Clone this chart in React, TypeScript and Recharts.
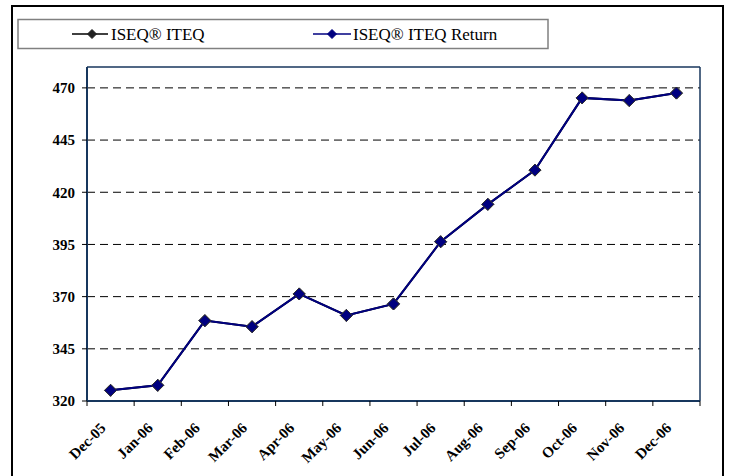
import React from 'react';
import { LineChart, Line, XAxis, YAxis, CartesianGrid } from 'recharts';

const months = ['Dec-05', 'Jan-06', 'Feb-06', 'Mar-06', 'Apr-06', 'May-06', 'Jun-06', 'Jul-06', 'Aug-06', 'Sep-06', 'Oct-06', 'Nov-06', 'Dec-06'];
const iteqValues = [325.1, 327.5, 358.5, 355.6, 371.3, 361.0, 366.5, 396.3, 414.2, 430.6, 465.2, 463.9, 467.5];
const iteqReturnValues = [325.1, 327.5, 358.5, 355.6, 371.3, 361.0, 366.5, 396.3, 414.2, 430.6, 465.2, 463.9, 467.5];
const yTicks = [320, 345, 370, 395, 420, 445, 470];
const xBoundaries = [0, 1, 2, 3, 4, 5, 6, 7, 8, 9, 10, 11, 12, 13];
const seriesNames = ['ISEQ® ITEQ', 'ISEQ® ITEQ Return'];

const data = months.map((m, i) => ({ pos: i + 0.5, month: m, iteq: iteqValues[i], ret: iteqReturnValues[i] }));

const FONT = '"Liberation Serif", "Times New Roman", Times, serif';
const W = 732;
const H = 476;
const M = { top: 66, left: 27, right: 31, bottom: 15 };
const Y_AXIS_W = 60;
const X_AXIS_H = 60;
const PLOT_W = W - M.left - Y_AXIS_W - M.right - 1;
const BAND = PLOT_W / months.length;
const AXIS_COLOR = '#17365d';

const Diamond = (props: any) => {
  const { cx, cy, fillColor, strokeColor, r } = props;
  if (cx == null || cy == null) return null;
  const s = r || 6;
  return (
    <polygon
      points={`${cx},${cy - s} ${cx + s},${cy} ${cx},${cy + s} ${cx - s},${cy}`}
      fill={fillColor}
      stroke={strokeColor}
      strokeWidth={1}
    />
  );
};

const MonthTick = (props: any) => {
  const { x, y, payload } = props;
  const idx = payload.value;
  if (idx >= months.length) return null;
  const lx = x + BAND / 2 - 4;
  const ly = y + 21;
  return (
    <text
      x={lx}
      y={ly}
      transform={`rotate(-45 ${lx} ${ly})`}
      textAnchor="end"
      style={{ fontFamily: FONT, fontWeight: 'bold', fontSize: 15 }}
      fill="#000"
    >
      {months[idx]}
    </text>
  );
};

const YTick = (props: any) => {
  const { x, y, payload } = props;
  return (
    <text x={x} y={y} dy="0.355em" textAnchor="end" style={{ fontFamily: FONT, fontWeight: 'bold', fontSize: 15 }} fill="#000">
      {payload.value}
    </text>
  );
};

const Legend = () => (
  <svg width={W} height={60} style={{ position: 'absolute', left: 0, top: 0 }}>
    <rect x={18} y={19.5} width={530} height={29} fill="#fff" stroke="#808080" strokeWidth={1.5} />
    <line x1={72} y1={34} x2={108} y2={34} stroke="#000" strokeWidth={1.5} />
    <Diamond cx={92} cy={34} r={4.5} fillColor="#222" strokeColor="#222" />
    <text x={111} y={40} style={{ fontFamily: FONT, fontSize: 17 }} fill="#000">{seriesNames[0]}</text>
    <line x1={313} y1={34} x2={351} y2={34} stroke="#000080" strokeWidth={1.5} />
    <Diamond cx={332} cy={34} r={4.5} fillColor="#000080" strokeColor="#000080" />
    <text x={353} y={40} style={{ fontFamily: FONT, fontSize: 17 }} fill="#000">{seriesNames[1]}</text>
  </svg>
);

export default function App() {
  return (
    <div style={{ position: 'fixed', left: 0, top: 0, width: W, height: H, overflow: 'hidden', background: '#fff', fontFamily: FONT }}>
      <div
        style={{
          position: 'absolute',
          left: 11,
          top: 5,
          width: 713,
          height: 490,
          border: '2px solid #000',
          boxSizing: 'border-box',
        }}
      />
      <div style={{ position: 'absolute', left: 0, top: 0 }}>
        <LineChart width={W} height={H} data={data} margin={M}>
          <CartesianGrid
            horizontal
            vertical={false}
            stroke="#000"
            strokeDasharray="8 5"
            strokeWidth={1}
            xAxisId={0}
            yAxisId={0}
            syncWithTicks
          />
          <XAxis
            dataKey="pos"
            type="number"
            domain={[0, 13]}
            ticks={xBoundaries}
            interval={0}
            height={X_AXIS_H}
            tickSize={5}
            tickLine={{ stroke: '#000', strokeWidth: 1 }}
            axisLine={{ stroke: AXIS_COLOR, strokeWidth: 2 }}
            tick={<MonthTick />}
          />
          <XAxis
            xAxisId="top"
            orientation="top"
            dataKey="pos"
            type="number"
            domain={[0, 13]}
            ticks={xBoundaries}
            height={1}
            tick={false}
            tickLine={false}
            axisLine={{ stroke: AXIS_COLOR, strokeWidth: 1.5 }}
          />
          <YAxis
            type="number"
            domain={[320, 480]}
            ticks={yTicks}
            interval={0}
            width={Y_AXIS_W}
            tickSize={5}
            tickMargin={7}
            tickLine={{ stroke: '#000', strokeWidth: 1 }}
            axisLine={{ stroke: AXIS_COLOR, strokeWidth: 2 }}
            tick={<YTick />}
          />
          <YAxis
            yAxisId="right"
            orientation="right"
            type="number"
            domain={[320, 480]}
            ticks={yTicks}
            width={1}
            tick={false}
            tickLine={false}
            axisLine={{ stroke: AXIS_COLOR, strokeWidth: 1.5 }}
          />
          <Line
            dataKey="iteq"
            name={seriesNames[0]}
            stroke="#000"
            strokeWidth={2}
            isAnimationActive={false}
            dot={(p: any) => <Diamond key={`a${p.index}`} cx={p.cx} cy={p.cy} fillColor="#222" strokeColor="#333" />}
            activeDot={false}
          />
          <Line
            dataKey="ret"
            name={seriesNames[1]}
            stroke="#000080"
            strokeWidth={2}
            isAnimationActive={false}
            dot={(p: any) => <Diamond key={`b${p.index}`} cx={p.cx} cy={p.cy} fillColor="#000080" strokeColor="#333" />}
            activeDot={false}
          />
        </LineChart>
      </div>
      <Legend />
    </div>
  );
}
